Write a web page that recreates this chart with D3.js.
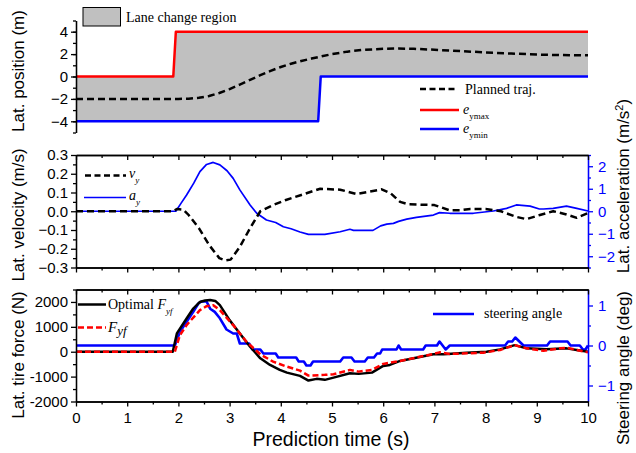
<!DOCTYPE html>
<html>
<head>
<meta charset="utf-8">
<script src="https://cdn.jsdelivr.net/npm/d3@7"></script>
<style>
  html, body { margin: 0; padding: 0; background: #fff; }
  svg { display: block; }
  .tick text { font-family: "Liberation Sans", Arial, sans-serif; }
</style>
</head>
<body>
<svg id="chart" width="636" height="453"></svg>
<script>
// ---------- data ----------
const xTicks = [0, 1, 2, 3, 4, 5, 6, 7, 8, 9, 10];

// lane change boundaries (m)
const eymaxT = [0, 1.9, 1.95, 10];
const eymaxV = [0, 0, 4, 4];
const eyminT = [0, 4.73, 4.78, 10];
const eyminV = [-4, -4, 0, 0];

// planned trajectory (m)
const trajT = [0, 2.0, 2.2, 2.4, 2.6, 2.8, 3.0, 3.2, 3.4, 3.6, 3.8, 4.0, 4.2, 4.4, 4.6, 4.8, 5.0, 5.3, 5.6, 6.0, 6.3, 6.6, 7.0, 7.5, 8.0, 8.5, 9.0, 9.5, 10];
const trajV = [-2, -2, -1.98, -1.9, -1.74, -1.47, -1.12, -0.72, -0.3, 0.12, 0.5, 0.85, 1.14, 1.38, 1.6, 1.8, 2.0, 2.22, 2.38, 2.47, 2.5, 2.47, 2.39, 2.27, 2.15, 2.05, 1.96, 1.91, 1.89];

// lateral velocity (m/s)
const vyT = [0, 1.9, 1.97, 2.1, 2.2, 2.4, 2.6, 2.8, 2.92, 3.02, 3.2, 3.4, 3.6, 3.85, 4.1, 4.4, 4.77, 5.16, 5.48, 5.97, 6.15, 6.33, 6.5, 7.0, 7.3, 7.5, 7.7, 8.0, 8.3, 8.6, 8.8, 9.06, 9.32, 9.58, 9.78, 10];
const vyV = [0, 0, 0.012, 0.008, -0.02, -0.09, -0.18, -0.25, -0.262, -0.258, -0.19, -0.09, 0, 0.033, 0.06, 0.087, 0.12, 0.115, 0.092, 0.117, 0.095, 0.05, 0.037, 0.033, 0.005, 0.005, 0.012, 0.012, 0, -0.03, -0.042, -0.02, 0, -0.017, -0.035, -0.01];

// lateral acceleration (m/s^2)
const ayT = [0, 1.95, 2.05, 2.16, 2.3, 2.42, 2.55, 2.68, 2.81, 2.95, 3.07, 3.2, 3.4, 3.53, 3.72, 3.9, 4.05, 4.2, 4.375, 4.54, 4.86, 5.16, 5.35, 5.42, 5.8, 5.95, 6.07, 6.2, 6.3, 6.46, 6.65, 6.98, 7.1, 7.3, 7.76, 8.15, 8.41, 8.6, 8.87, 9.05, 9.13, 9.32, 9.58, 9.78, 10];
const ayV = [0, 0, 0.35, 0.72, 1.25, 1.76, 2.08, 2.17, 2.06, 1.8, 1.46, 0.95, 0.28, -0.09, -0.39, -0.5, -0.69, -0.78, -0.92, -1.03, -1.03, -0.91, -0.8, -0.85, -0.85, -0.65, -0.57, -0.54, -0.45, -0.35, -0.27, -0.17, -0.06, -0.09, -0.09, 0.01, 0.13, 0.28, 0.23, 0.1, 0.1, 0.13, 0.23, 0.13, 0.01];

// optimal lateral tire force (N)
const fOptT = [0, 1.89, 1.97, 2.16, 2.29, 2.42, 2.52, 2.62, 2.72, 2.81, 3.0, 3.2, 3.4, 3.6, 3.79, 3.98, 4.12, 4.375, 4.54, 4.7, 4.86, 5.03, 5.35, 5.52, 5.78, 6.0, 6.13, 6.33, 6.98, 7.18, 7.63, 8.02, 8.28, 8.57, 8.8, 9.19, 9.58, 9.78, 10];
const fOptV = [0, 0, 735, 1335, 1735, 2000, 2060, 2080, 2040, 1870, 1270, 735, 200, -265, -530, -730, -840, -970, -1160, -1090, -1130, -1040, -865, -890, -840, -570, -530, -370, -105, -105, -40, 0, 95, 265, 135, 95, 135, 70, 0];

// front lateral tire force (N)
const fyfT = [0, 1.93, 2.03, 2.16, 2.42, 2.55, 2.68, 2.81, 3.07, 3.33, 3.6, 3.85, 4.12, 4.375, 4.54, 4.86, 5.03, 5.35, 5.52, 5.78, 6.0, 6.33, 6.98, 7.1, 7.3, 7.96, 8.28, 8.57, 8.8, 9.13, 9.45, 9.58, 10];
const fyfV = [0, 0, 670, 1070, 1670, 1830, 1870, 1670, 1070, 400, -105, -400, -600, -760, -960, -930, -905, -730, -800, -730, -490, -370, -90, -25, -90, -40, 70, 265, 135, 40, 135, 160, -25];

// steering angle (deg)
const steerT = [0, 1.93, 2.03, 2.16, 2.29, 2.39, 2.45, 2.55, 2.62, 2.71, 2.81, 2.94, 3.07, 3.14, 3.2, 3.38, 3.45, 3.6, 3.66, 3.9, 3.95, 4.3, 4.35, 4.45, 4.5, 4.58, 4.63, 5.16, 5.22, 5.38, 5.44, 5.64, 5.7, 5.82, 5.88, 5.94, 5.98, 6.26, 6.3, 6.35, 6.78, 6.83, 7.05, 7.1, 7.22, 7.3, 8.38, 8.44, 8.52, 8.58, 8.66, 8.74, 9.2, 9.26, 9.6, 9.66, 9.84, 9.9, 9.95, 10];
const steerV = [0, 0, 0.34, 0.59, 0.84, 1.05, 1.1, 1.1, 0.92, 0.84, 0.68, 0.4, 0.3, 0.3, 0.05, 0.05, -0.1, -0.1, -0.2, -0.2, -0.3, -0.3, -0.4, -0.4, -0.5, -0.5, -0.4, -0.4, -0.3, -0.3, -0.4, -0.4, -0.3, -0.3, -0.2, -0.2, -0.1, -0.1, 0, -0.1, -0.1, 0, 0, 0.1, -0.1, 0, 0, 0.1, 0.1, 0.2, 0.1, 0, 0, 0.1, 0.1, 0, 0, -0.1, -0.1, 0];

// axis ticks
const posTicks = [-4, -2, 0, 2, 4];
const velTicks = [-0.3, -0.2, -0.1, 0.0, 0.1, 0.2, 0.3];
const accTicks = [-2, -1, 0, 1, 2];
const forceTicks = [-2000, -1000, 0, 1000, 2000];
const steerTicks = [-1, 0, 1];

// ---------- layout ----------
const svg = d3.select("#chart");
const X0 = 76, X1 = 588;
const P1 = [20.5, 132.5];   // top, bottom of position panel
const P2 = [155, 267.5];    // velocity panel
const P3 = [289.5, 401.5];  // force panel

const sansFont = '"Liberation Sans", Arial, sans-serif';
const serifFont = '"Liberation Serif", "Times New Roman", serif';
const BLUE = "#0000ff", RED = "#ff0000";

const x = d3.scaleLinear().domain([0, 10]).range([X0, X1]);
const yPos = d3.scaleLinear().domain([-5, 5]).range([P1[1], P1[0]]);
const yVel = d3.scaleLinear().domain([-0.3, 0.3]).range([P2[1], P2[0]]);
const yAcc = d3.scaleLinear().domain([-2.5, 2.5]).range([P2[1], P2[0]]);
const yForce = d3.scaleLinear().domain([-2000, 2500]).range([P3[1], P3[0]]);
const ySteer = d3.scaleLinear().domain([-1.4, 1.4]).range([P3[1], P3[0]]);

const zip = (ts, vs) => ts.map((t, i) => [t, vs[i]]);

function addLine(data, yScale, color, width, dash) {
  const line = d3.line().x(d => x(d[0])).y(d => yScale(d[1]));
  const p = svg.append("path").datum(data)
    .attr("d", line)
    .attr("fill", "none")
    .attr("stroke", color)
    .attr("stroke-width", width)
    .attr("stroke-linejoin", "round");
  if (dash) p.attr("stroke-dasharray", dash);
  return p;
}

// ---------- position panel ----------
const upper = zip(eymaxT, eymaxV);
const lower = zip(eyminT, eyminV);
const region = upper.map(d => [x(d[0]), yPos(d[1])])
  .concat(lower.slice().reverse().map(d => [x(d[0]), yPos(d[1])]));
svg.append("path")
  .attr("d", "M" + region.join("L") + "Z")
  .attr("fill", "#c0c0c0");

addLine(upper, yPos, RED, 2.5);
addLine(lower, yPos, BLUE, 2.5);
addLine(zip(trajT, trajV), yPos, "#000", 2.5, "7,4");

// ---------- velocity / acceleration panel ----------
addLine(zip(ayT, ayV), yAcc, BLUE, 1.7);
addLine(zip(vyT, vyV), yVel, "#000", 2.5, "7,4");

// ---------- force / steering panel ----------
addLine(zip(steerT, steerV), ySteer, BLUE, 2.6);
addLine(zip(fOptT, fOptV), yForce, "#000", 2.5);
addLine(zip(fyfT, fyfV), yForce, RED, 2.5, "6,3");

// ---------- axes ----------
function minorTicks(lo, hi, step) {
  const out = [];
  for (let v = lo; v <= hi + 1e-9; v += step) out.push(+v.toFixed(6));
  return out;
}

function styleAxis(g, color) {
  g.selectAll("path.domain").attr("stroke", color).attr("stroke-width", 1.3);
  g.selectAll(".tick line").attr("stroke", color).attr("stroke-width", 1.3);
  g.selectAll(".tick text").attr("fill", color).attr("font-size", 15).attr("font-family", sansFont);
  return g;
}

// left axes
function leftAxis(scale, ticks, minor, fmt) {
  const gMinor = svg.append("g").attr("transform", `translate(${X0},0)`)
    .call(d3.axisLeft(scale).tickValues(minor).tickSize(3).tickFormat("").tickSizeOuter(0));
  styleAxis(gMinor, "#000");
  const g = svg.append("g").attr("transform", `translate(${X0},0)`)
    .call(d3.axisLeft(scale).tickValues(ticks).tickSize(5).tickPadding(3).tickFormat(fmt).tickSizeOuter(0));
  styleAxis(g, "#000");
}
leftAxis(yPos, posTicks, minorTicks(-5, 5, 1), d3.format("d"));
leftAxis(yVel, velTicks, minorTicks(-0.25, 0.25, 0.1), d3.format(".1f"));
leftAxis(yForce, forceTicks, minorTicks(-1500, 2500, 1000), d => d3.format("d")(d).replace("−", "-"));

// right axes (blue)
function rightAxis(scale, ticks, minor) {
  const gMinor = svg.append("g").attr("transform", `translate(${X1},0)`)
    .call(d3.axisRight(scale).tickValues(minor).tickSize(3).tickFormat("").tickSizeOuter(0));
  styleAxis(gMinor, BLUE);
  const g = svg.append("g").attr("transform", `translate(${X1},0)`)
    .call(d3.axisRight(scale).tickValues(ticks).tickSize(5).tickPadding(5).tickFormat(d3.format("d")).tickSizeOuter(0));
  styleAxis(g, BLUE);
}
rightAxis(yAcc, accTicks, minorTicks(-2.5, 2.5, 1));
rightAxis(ySteer, steerTicks, minorTicks(-1.5, 1.5, 1).filter(v => Math.abs(v) <= 1.4));

// horizontal frames with ticks
const xMinor = minorTicks(0.5, 9.5, 1);
function hAxis(yPix, top, labels) {
  const gMinor = svg.append("g").attr("transform", `translate(0,${yPix})`)
    .call(d3.axisBottom(x).tickValues(xMinor).tickSize(3).tickFormat("").tickSizeOuter(0));
  const g = svg.append("g").attr("transform", `translate(0,${yPix})`)
    .call(d3.axisBottom(x).tickValues(xTicks).tickSize(5).tickPadding(6)
      .tickFormat(labels ? d3.format("d") : "").tickSizeOuter(0));
  styleAxis(gMinor, "#000");
  styleAxis(g, "#000");
}
hAxis(P2[0], true, false);
hAxis(P2[1], false, false);
hAxis(P3[0], true, false);
hAxis(P3[1], false, true);

// ---------- axis titles ----------
function vTitle(cx, cy, parts, color) {
  const t = svg.append("text")
    .attr("transform", `translate(${cx},${cy}) rotate(-90)`)
    .attr("text-anchor", "middle")
    .attr("dy", "0.35em")
    .attr("font-family", sansFont)
    .attr("font-size", 17)
    .attr("fill", color || "#000");
  parts.forEach(p => {
    const s = t.append("tspan").text(p.text);
    if (p.sup) s.attr("baseline-shift", "super").attr("font-size", 11);
  });
}
vTitle(18, 71, [{ text: "Lat. position (m)" }]);
vTitle(18, 215, [{ text: "Lat. velocity (m/s)" }]);
vTitle(18, 355, [{ text: "Lat. tire force (N)" }]);
vTitle(623, 186, [{ text: "Lat. acceleration (m/s" }, { text: "2", sup: true }, { text: ")" }]);
vTitle(623, 368, [{ text: "Steering angle (deg)" }]);

svg.append("text")
  .attr("x", 331).attr("y", 446)
  .attr("text-anchor", "middle")
  .attr("font-family", sansFont)
  .attr("font-size", 19.5)
  .text("Prediction time (s)");

// ---------- legends ----------
function legendText(xp, yp, parts, size) {
  const t = svg.append("text")
    .attr("x", xp).attr("y", yp)
    .attr("font-family", serifFont)
    .attr("font-size", size || 14)
    .attr("fill", "#000");
  parts.forEach(p => {
    const s = t.append("tspan").text(p.text);
    if (p.italic) s.attr("font-style", "italic");
    if (p.sub) s.attr("font-size", p.subSize || 9).attr("dy", p.dy || 5);
  });
  return t;
}
function legendLine(x1, x2, yp, color, width, dash) {
  const l = svg.append("line")
    .attr("x1", x1).attr("x2", x2).attr("y1", yp).attr("y2", yp)
    .attr("stroke", color).attr("stroke-width", width);
  if (dash) l.attr("stroke-dasharray", dash);
}

// lane change region
svg.append("rect").attr("x", 83).attr("y", 7.5).attr("width", 37.5).attr("height", 18.5)
  .attr("fill", "#c0c0c0").attr("stroke", "#000").attr("stroke-width", 1);
legendText(126, 22, [{ text: "Lane change region" }]);

legendLine(420, 455, 89, "#000", 2.5, "6,3.5");
legendText(465, 94, [{ text: "Planned traj." }]);
legendLine(420, 459, 110, RED, 2.5);
legendText(463, 114, [{ text: "e", italic: true }, { text: "ymax", sub: true }]);
legendLine(420, 459, 129, BLUE, 2.5);
legendText(463, 133, [{ text: "e", italic: true }, { text: "ymin", sub: true }]);

legendLine(85, 126, 175.5, "#000", 2.5, "6,3.5");
legendText(129, 178, [{ text: "v", italic: true }, { text: "y", italic: true, sub: true }]);
legendLine(84, 126, 197.5, BLUE, 1.7);
legendText(129, 200, [{ text: "a", italic: true }, { text: "y", italic: true, sub: true }]);

legendLine(78, 106, 304.5, "#000", 2.5);
legendText(108, 309, [{ text: "Optimal " }, { text: "F", italic: true }, { text: "yf", italic: true, sub: true }]);
legendLine(78, 106, 327.5, RED, 2.5, "6,3");
legendText(108, 332, [{ text: "F", italic: true }, { text: "yf", italic: true, sub: true, subSize: 13, dy: 3 }], 15);

legendLine(433, 474, 314, BLUE, 2.6);
legendText(484, 318, [{ text: "steering angle" }]);
</script>
</body>
</html>
